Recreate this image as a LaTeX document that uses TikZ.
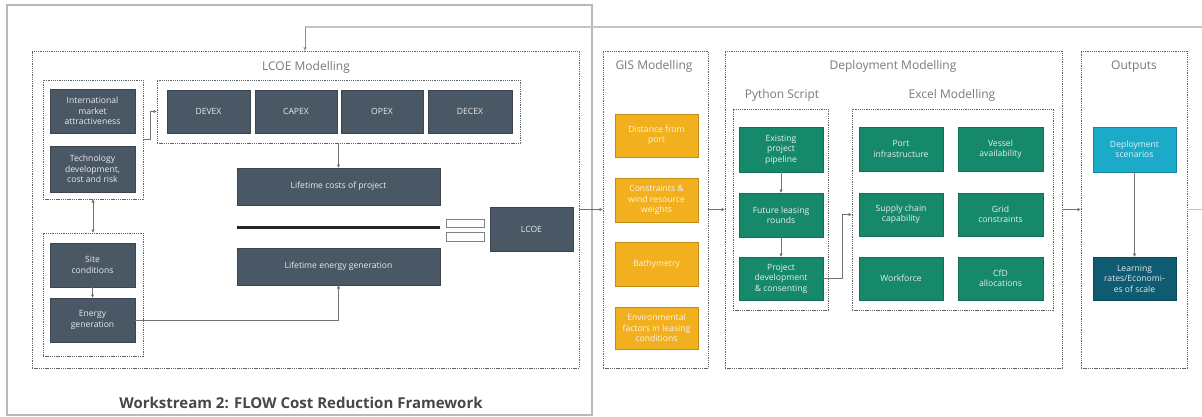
\documentclass[tikz,border=0pt]{standalone}
\usepackage{fontspec}
\setmainfont{Open Sans}
\usetikzlibrary{arrows.meta,calc}
\definecolor{slate}{HTML}{4A5765}
\definecolor{gisor}{HTML}{F2AF1E}
\definecolor{dgreen}{HTML}{17896B}
\definecolor{cyanb}{HTML}{1BAAC8}
\definecolor{dteal}{HTML}{0E5B72}
\definecolor{grpline}{HTML}{5E6366}
\definecolor{ttl}{HTML}{7A7A7A}
\definecolor{fbline}{HTML}{C4C4C4}
\tikzset{
  blk/.style={draw=#1!80!black, fill=#1, text=white!88!#1, align=center,
    font=\fontsize{8.6}{10.4}\selectfont, inner sep=1pt, outer sep=0pt, line width=0.8pt},
  grp/.style={draw=grpline, dash pattern=on 1.3pt off 0.9pt, line width=0.9pt,
    inner sep=0pt, outer sep=0pt},
  ttlnode/.style={text=ttl, font=\fontsize{12}{14}\selectfont, inner sep=0pt},
  arr/.style={draw=grpline!90, line width=0.6pt, -{Latex[length=3.5pt,width=3.5pt]}},
  darr/.style={draw=grpline!90, line width=0.6pt, {Latex[length=3.5pt,width=3.5pt]}-{Latex[length=3.5pt,width=3.5pt]}},
  eqbox/.style={draw=grpline!80, fill=white, line width=0.7pt, inner sep=0pt, outer sep=0pt},
}
\begin{document}
\begin{tikzpicture}[x=1pt,y=-1pt]
\useasboundingbox (0,0) rectangle (1202,417);
\clip (0,0) rectangle (1202,417);
\fill[white] (0,0) rectangle (1202,417);

% outer workstream frame
\node[draw=gray!55, line width=1.3pt, minimum width=585, minimum height=410, inner sep=0pt] (ws) at (299.5,210) {};
\node[font=\fontsize{15}{17}\bfseries\selectfont, text=black!72] (wstitle) at (301,403) {Workstream 2: FLOW Cost Reduction Framework};

% feedback coordinate
\coordinate (fbtop) at (305,27);

% ---------- LCOE Modelling ----------
\node[grp, minimum width=547, minimum height=317] (lcoemod) at (305.5,209.5) {};
\node[ttlnode] (lcoettl) at (306,67) {LCOE Modelling};

\node[grp, minimum width=100, minimum height=119] (g1) at (93,139.5) {};
\node[blk=slate, minimum width=85, minimum height=44] (intl) at (92.5,111) {International\\market\\attractiveness};
\node[blk=slate, minimum width=85, minimum height=46] (tech) at (92.5,169) {Technology\\development,\\cost and risk};

\node[grp, minimum width=100, minimum height=123] (g2) at (93,294.5) {};
\node[blk=slate, minimum width=85, minimum height=44] (site) at (92.5,265) {Site\\conditions};
\node[blk=slate, minimum width=85, minimum height=44] (egen) at (92.5,320) {Energy\\generation};

\node[grp, minimum width=363, minimum height=63] (cost) at (338.5,111.5) {};
\node[blk=slate, minimum width=83, minimum height=43] (devex) at (208.5,111.5) {DEVEX};
\node[blk=slate, minimum width=82, minimum height=43] (capex) at (296,111.5) {CAPEX};
\node[blk=slate, minimum width=82, minimum height=43] (opex) at (382,111.5) {OPEX};
\node[blk=slate, minimum width=84, minimum height=43] (decex) at (470,111.5) {DECEX};

\node[blk=slate, minimum width=203, minimum height=37] (ltc) at (338.5,186.5) {Lifetime costs of project};
\node[blk=slate, minimum width=203, minimum height=37] (lte) at (338.5,266.5) {Lifetime energy generation};
\coordinate (barL) at (237,227);
\coordinate (barR) at (440,227);
\draw[line width=3pt, black!85] (barL) -- (barR);
\node[eqbox, minimum width=38, minimum height=8] (eq1) at (465,223) {};
\node[eqbox, minimum width=38, minimum height=9] (eq2) at (465,236.5) {};
\node[blk=slate, minimum width=83, minimum height=44] (lcoe) at (531.5,229) {LCOE};

% ---------- GIS Modelling ----------
\node[grp, minimum width=105, minimum height=317] (gis) at (655.5,209.5) {};
\node[ttlnode] (gisttl) at (654,66) {GIS Modelling};
\node[blk=gisor, minimum width=83, minimum height=43] (gis1) at (656.5,135.5) {Distance from\\port};
\node[blk=gisor, minimum width=83, minimum height=44] (gis2) at (656.5,200) {Constraints \&\\wind resource\\weights};
\node[blk=gisor, minimum width=83, minimum height=44] (gis3) at (656.5,264) {Bathymetry};
\node[blk=gisor, minimum width=83, minimum height=42] (gis4) at (656.5,328) {Environmental\\factors in leasing\\conditions};

% ---------- Deployment Modelling ----------
\node[grp, minimum width=337, minimum height=317] (dep) at (893.5,209.5) {};
\node[ttlnode] (depttl) at (893,66) {Deployment Modelling};

\node[ttlnode] (pyttl) at (782,95) {Python Script};
\node[grp, minimum width=95, minimum height=201] (py) at (780.5,209.5) {};
\node[blk=dgreen, minimum width=84, minimum height=45] (exist) at (781,149.5) {Existing\\project\\pipeline};
\node[blk=dgreen, minimum width=84, minimum height=44] (future) at (781,215) {Future leasing\\rounds};
\node[blk=dgreen, minimum width=84, minimum height=43] (proj) at (781,278.5) {Project\\development\\\& consenting};

\node[ttlnode] (xlttl) at (952,95) {Excel Modelling};
\node[grp, minimum width=201, minimum height=201] (xl) at (952.5,209.5) {};
\node[blk=dgreen, minimum width=84, minimum height=44] (port) at (901,149) {Port\\infrastructure};
\node[blk=dgreen, minimum width=85, minimum height=44] (vessel) at (1000.5,149) {Vessel\\availability};
\node[blk=dgreen, minimum width=84, minimum height=43] (supply) at (901,214.5) {Supply chain\\capability};
\node[blk=dgreen, minimum width=85, minimum height=43] (grid) at (1000.5,214.5) {Grid\\constraints};
\node[blk=dgreen, minimum width=84, minimum height=43] (work) at (901,278.5) {Workforce};
\node[blk=dgreen, minimum width=85, minimum height=43] (cfd) at (1000.5,278.5) {CfD\\allocations};

% ---------- Outputs ----------
\node[grp, minimum width=106, minimum height=317] (out) at (1134,209.5) {};
\node[ttlnode] (outttl) at (1134,67) {Outputs};
\node[blk=cyanb, minimum width=83, minimum height=45] (scen) at (1134.5,149.5) {Deployment\\scenarios};
\node[blk=dteal, minimum width=83, minimum height=43] (learn) at (1134.5,278.5) {Learning\\rates/Economi-\\es of scale};

% ---------- connectors ----------
\draw[darr] (g1.south) -- (g2.north);
\draw[arr] (site.south) -- (egen.north);
\draw[arr] (g1.east) -- ++(7,0) |- (cost.west);
\draw[arr] (cost.south) -- (ltc.north);
\draw[arr] (egen.east) -| (lte.south);
\draw[arr] (lcoemod.east) -- (gis.west);
\draw[arr] (gis.east) -- (dep.west);
\draw[arr] (dep.east) -- (out.west);
\draw[arr] (exist.south) -- (future.north);
\draw[arr] (future.south) -- (proj.north);
\draw[arr] (proj.east) -- ++(19,0) |- (supply.west -| xl.west);
\draw[arr] (scen.south) -- (learn.north);
\draw[fbline, line width=0.8pt] (out.east) -- ++(30,0) |- (fbtop);
\draw[draw=fbline, line width=1.6pt] (fbtop) -- ++(910,0);
\draw[arr, draw=grpline!70] (fbtop) -- (fbtop |- lcoemod.north);
\end{tikzpicture}
\end{document}
